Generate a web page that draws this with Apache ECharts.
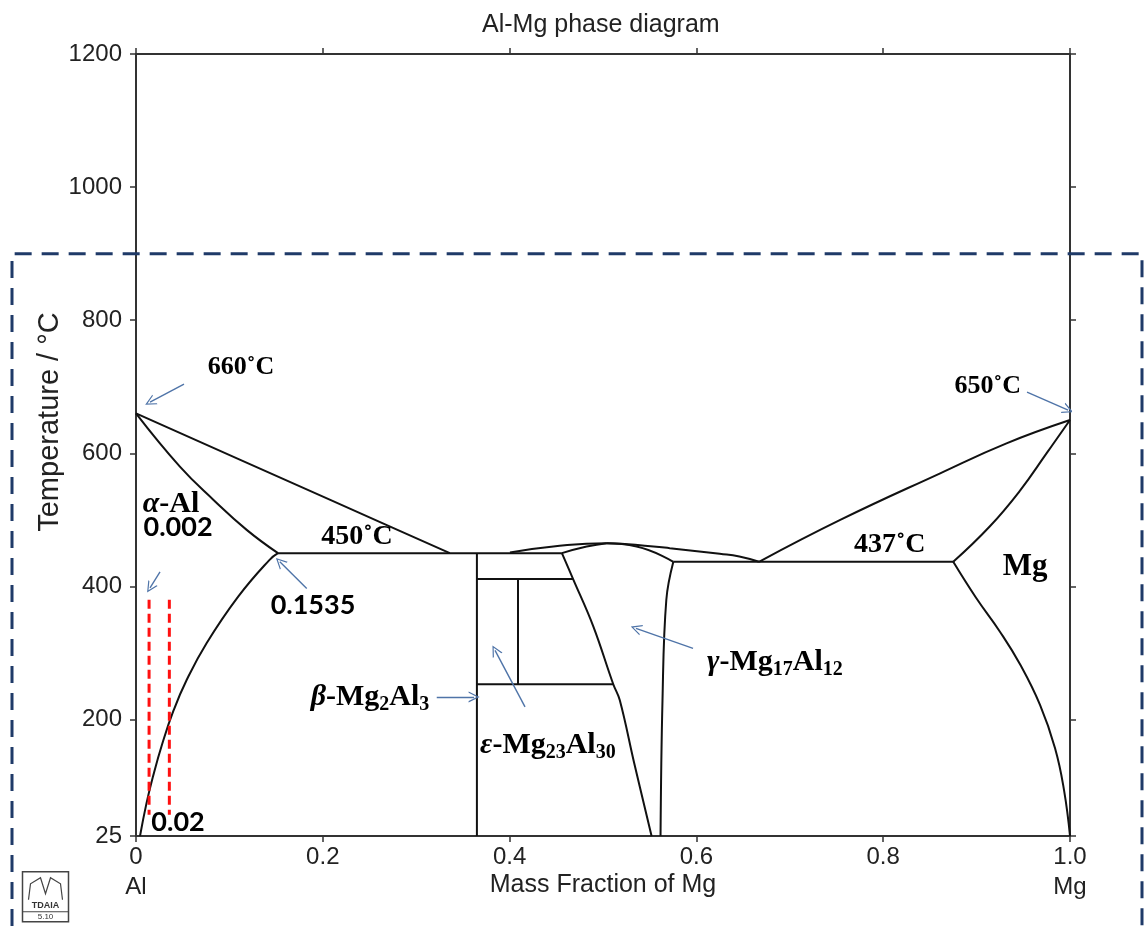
<!DOCTYPE html>
<html>
<head>
<meta charset="utf-8">
<script src="https://cdn.jsdelivr.net/npm/echarts@6/dist/echarts.min.js"></script>
<style>
  html, body { margin: 0; padding: 0; background: #fff; }
  #chart { width: 1147px; height: 926px; }
</style>
</head>
<body>
<div id="chart"></div>
<script>
// --- DATEN ---
const X_TICKS = [0, 0.2, 0.4, 0.6, 0.8, 1.0];
const Y_TICKS = [25, 200, 400, 600, 800, 1000, 1200];

// Phasengrenzen [Massenanteil Mg, Temperatur °C]
const alLiquidus = [[0, 660], [0.208, 530], [0.336, 450]];
const alSolidus = [[0, 660], [0.047, 580], [0.083, 530], [0.1185, 485], [0.152, 450]];
const alSolvus = [[0.152, 450], [0.143, 440], [0.1096, 385], [0.0757, 315], [0.0541, 259], [0.0403, 214],
  [0.0282, 164], [0.0181, 114], [0.0112, 74], [0.0043, 25]];
const eutectic450 = [[0.152, 450], [0.456, 450]];
const betaLeft = [[0.365, 450], [0.365, 25]];
const line410 = [[0.365, 411], [0.468, 411]];
const epsMid = [[0.409, 411], [0.409, 253]];
const line250 = [[0.365, 253], [0.511, 253]];
const gammaLeft = [[0.456, 450], [0.468, 411], [0.4896, 340], [0.511, 253], [0.518, 229], [0.5335, 134], [0.552, 25]];
const gammaRight = [[0.5753, 437], [0.5678, 380], [0.5637, 229], [0.5616, 25]];
const gammaSolidusL = [[0.456, 450], [0.4825, 460], [0.504, 465]];
const gammaSolidusR = [[0.504, 465], [0.536, 460], [0.5753, 437]];
const gammaLiquidus = [[0.4004, 451], [0.4468, 460], [0.504, 465], [0.554, 460], [0.5715, 457.5],
  [0.625, 449], [0.646, 445], [0.667, 437]];
const eutectic437 = [[0.5753, 437], [0.875, 437]];
const mgLiquidus = [[0.667, 437], [0.754, 500], [0.861, 570], [0.932, 615], [1, 650]];
const mgSolidus = [[0.875, 437], [0.914, 490], [0.9465, 544], [0.9754, 601], [1, 650]];
const mgSolvus = [[0.875, 437], [0.8994, 383], [0.925, 332], [0.9465, 283], [0.9679, 222],
  [0.984, 157], [0.9936, 94], [1, 25]];

// rote Markierungen
const redLeft = [[0.014, 380], [0.014, 57]];
const redRight = [[0.0357, 380], [0.0357, 57]];

// Pfeile [von, nach]
const arrows = [
  [[0.0514, 704], [0.015, 677]],
  [[0.954, 692], [0.998, 665]],
  [[0.0257, 422], [0.015, 398]],
  [[0.1828, 397], [0.154, 437]],
  [[0.322, 234], [0.362, 234]],
  [[0.4165, 219], [0.3844, 304]],
  [[0.5964, 307], [0.5353, 337]]
];

// Beschriftungen
const noteTexts = [
  '{t|660˚C}', '{t|650˚C}', '{gi|α}{g|-Al}', '{c|0.002}', '{c|0.1535}', '{c|0.02}',
  '{e|450˚C}', '{e|437˚C}', '{m|Mg}',
  '{gi|β}{g|-Mg}{s|2}{g|Al}{s|3}',
  '{gi|ε}{g|-Mg}{s|23}{g|Al}{s|30}',
  '{gi|γ}{g|-Mg}{s|17}{g|Al}{s|12}'
];
const noteAt = [
  [0.1124, 730], [0.912, 701], [0.0375, 524], [0.045, 489], [0.1895, 372], [0.045, 46],
  [0.2366, 474], [0.807, 462], [0.952, 429],
  [0.2505, 234], [0.441, 162], [0.684, 286]
];

// --- CHART ---
const chart = echarts.init(document.getElementById('chart'));

const SANS = 'Liberation Sans, Arial, sans-serif';
const SERIF = 'Liberation Serif, Times New Roman, serif';
const axisColor = '#333';

const richStyles = {
  t: { fontFamily: SERIF, fontWeight: 'bold', fontSize: 26, color: '#000' },
  e: { fontFamily: SERIF, fontWeight: 'bold', fontSize: 28, color: '#000' },
  g: { fontFamily: SERIF, fontWeight: 'bold', fontSize: 30, color: '#000', lineHeight: 36 },
  gi: { fontFamily: SERIF, fontWeight: 'bold', fontStyle: 'italic', fontSize: 30, color: '#000', lineHeight: 36 },
  s: { fontFamily: SERIF, fontWeight: 'bold', fontSize: 20, color: '#000', verticalAlign: 'bottom', lineHeight: 17 },
  c: { fontFamily: 'Lato, Open Sans, sans-serif', fontWeight: 'bold', fontSize: 27, color: '#000' },
  m: { fontFamily: SERIF, fontWeight: 'bold', fontSize: 31, color: '#000' }
};

// offene Pfeilspitze
const CHEVRON = 'path://M5,0 L10,10 L8.8,10 L5,2.4 L1.2,10 L0,10 Z';

function boundary(data, smooth) {
  return {
    type: 'line', data: data, showSymbol: false, symbol: 'none', smooth: smooth || false,
    lineStyle: { color: '#111', width: 2 }, silent: true, z: 3
  };
}

function redDash(data) {
  return {
    type: 'line', data: data, showSymbol: false, symbol: 'none',
    lineStyle: { color: '#ff1010', width: 3, type: [9, 5] }, silent: true, z: 4
  };
}

const tickCommon = { show: true, inside: false, length: 6, lineStyle: { color: axisColor, width: 1.5 } };
const lineCommon = { show: true, onZero: false, lineStyle: { color: axisColor, width: 2 } };

chart.setOption({
  backgroundColor: '#fff',
  animation: false,
  title: {
    text: 'Al-Mg phase diagram', left: 477, top: 8,
    textStyle: { fontFamily: SANS, fontWeight: 'normal', fontSize: 25, color: '#222' }
  },
  grid: { left: 136, right: 77, top: 54, bottom: 90, outerBoundsMode: 'none', containLabel: false },
  xAxis: [{
    type: 'value', min: 0, max: 1, interval: 0.2, position: 'bottom',
    name: 'Mass Fraction of Mg', nameLocation: 'middle', nameGap: 37, nameMoveOverlap: false,
    nameTextStyle: { fontFamily: SANS, fontSize: 25, color: '#222' },
    axisLine: lineCommon, axisTick: tickCommon, splitLine: { show: false },
    axisLabel: {
      fontFamily: SANS, fontSize: 24, color: '#222', margin: 6, lineHeight: 30,
      formatter: v => v === 0 ? '0\nAl' : (v === 1 ? '1.0\nMg' : v.toFixed(1))
    }
  }, {
    type: 'value', min: 0, max: 1, interval: 0.2, position: 'top',
    axisLine: lineCommon, axisTick: tickCommon, axisLabel: { show: false }, splitLine: { show: false }
  }],
  yAxis: [{
    type: 'value', min: 25, max: 1200, position: 'left',
    name: 'Temperature / °C', nameLocation: 'middle', nameGap: 72, nameMoveOverlap: false,
    nameTextStyle: { fontFamily: SANS, fontSize: 29, color: '#222', padding: [0, 0, 0, 46] },
    axisLine: lineCommon,
    axisTick: Object.assign({}, tickCommon, { customValues: Y_TICKS }),
    axisLabel: { fontFamily: SANS, fontSize: 24, color: '#222', margin: 14, customValues: Y_TICKS, formatter: v => String(v) },
    splitLine: { show: false }
  }, {
    type: 'value', min: 25, max: 1200, position: 'right',
    axisLine: lineCommon,
    axisTick: Object.assign({}, tickCommon, { customValues: Y_TICKS }),
    axisLabel: { show: false }, splitLine: { show: false }
  }],
  series: [
    boundary(alLiquidus, 0.2),
    boundary(alSolidus, 0.45),
    boundary(alSolvus, 0.45),
    boundary(eutectic450),
    boundary(betaLeft),
    boundary(line410),
    boundary(epsMid),
    boundary(line250),
    boundary(gammaLeft, 0.4),
    boundary(gammaRight, 0.4),
    boundary(gammaSolidusL, 0.5),
    boundary(gammaSolidusR, 0.5),
    boundary(gammaLiquidus, 0.5),
    boundary(eutectic437),
    boundary(mgLiquidus, 0.45),
    boundary(mgSolidus, 0.45),
    boundary(mgSolvus, 0.45),
    redDash(redLeft),
    redDash(redRight),
    {
      type: 'lines', coordinateSystem: 'cartesian2d', silent: true, z: 5,
      symbol: ['none', CHEVRON], symbolSize: 11,
      lineStyle: { color: '#4f74a8', width: 1.4, opacity: 1 },
      data: arrows.map(a => ({ coords: a }))
    },
    {
      type: 'scatter', symbolSize: 0, silent: true, z: 6,
      itemStyle: { opacity: 1 },
      data: noteAt.map((p, i) => ({
        value: p,
        label: {
          show: true, position: 'inside', formatter: noteTexts[i], rich: richStyles,
          color: '#000', opacity: 1, textBorderWidth: 0
        }
      }))
    }
  ]
});

// gestrichelter Rahmen und Logo
const boxTop = chart.convertToPixel({ yAxisIndex: 0 }, 900);
chart.setOption({
  graphic: [
    {
      type: 'polyline', silent: true, z: 10,
      shape: { points: [[12, 926], [12, boxTop], [1142, boxTop], [1142, 926]] },
      style: { stroke: '#1f3a68', lineWidth: 3, lineDash: [17, 10], fill: null }
    },
    {
      type: 'group', left: 20, top: 871, silent: true,
      children: [
        { type: 'rect', shape: { x: 0, y: 0, width: 46, height: 50 }, style: { stroke: '#444', lineWidth: 1.5, fill: '#fff' } },
        { type: 'line', shape: { x1: 0, y1: 40, x2: 46, y2: 40 }, style: { stroke: '#444', lineWidth: 1 } },
        { type: 'polyline', shape: { points: [[6, 28], [8, 12], [18, 6], [23, 22], [28, 6], [38, 12], [40, 28]] }, style: { stroke: '#444', lineWidth: 1.2, fill: null } },
        { type: 'text', style: { text: 'TDAIA', x: 23, y: 34, align: 'center', verticalAlign: 'middle', font: 'bold 9px Liberation Sans', fill: '#333' } },
        { type: 'text', style: { text: '5.10', x: 23, y: 45.5, align: 'center', verticalAlign: 'middle', font: '8px Liberation Sans', fill: '#333' } }
      ]
    }
  ]
});

window.addEventListener('resize', () => chart.resize());
</script>
</body>
</html>
